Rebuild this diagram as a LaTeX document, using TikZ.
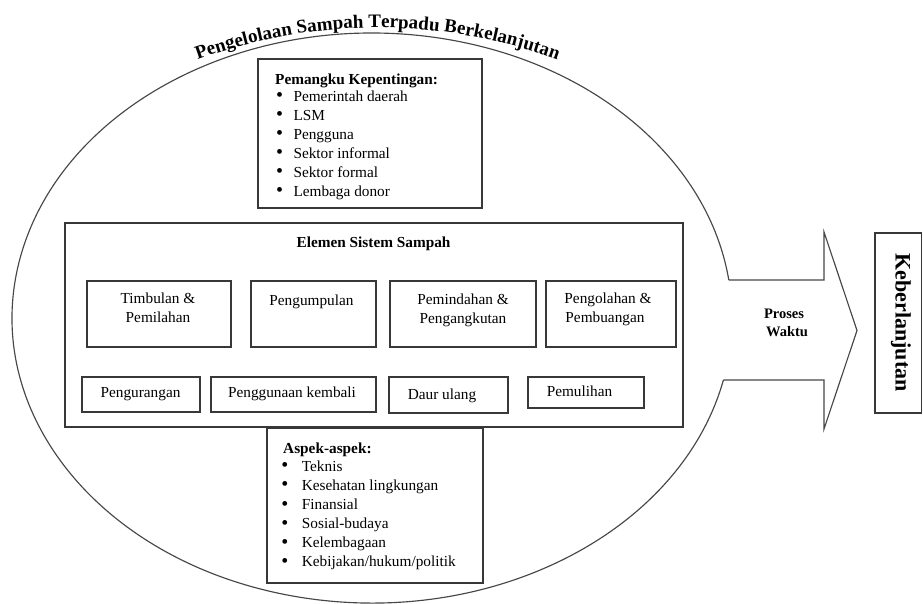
\documentclass[tikz,border=0pt]{standalone}
\usepackage{fontspec}
\setmainfont{Liberation Serif}
\usetikzlibrary{decorations.text}

\newcommand{\arctitlefont}{\fontsize{19}{19}\selectfont\bfseries}
\newcommand{\bigbullet}{\raisebox{-0.8pt}{\fontsize{20}{20}\selectfont\textbullet}}

\tikzset{
  outline/.style={draw=black!72, line width=1.15pt},
  box/.style={draw=black!78, line width=1.2pt, fill=white, inner sep=0pt, outer sep=0pt, anchor=north west},
  lbl/.style={font=\fontsize{15.3}{18.6}\selectfont, inner sep=0pt, anchor=base, text=black},
  lblb/.style={lbl, font=\fontsize{15.3}{18.6}\selectfont\bfseries},
  item/.style={lbl, anchor=base west},
  head/.style={lblb, anchor=base west},
}

\begin{document}
\begin{tikzpicture}[x=1pt, y=-1pt]
\useasboundingbox (0,0) rectangle (923,603);

% outer ellipse, left open on the right where the arrow leaves it
\coordinate (eTop) at (728.8,280);
\coordinate (eBot) at (723.4,380);
\draw[outline] (eBot) arc[start angle=12.56, end angle=352.34, x radius=360, y radius=285];

% block arrow "Proses Waktu"
\coordinate (aTopIn)  at (824,280);
\coordinate (aTopOut) at (824,232);
\coordinate (aTip)    at (857,330.5);
\coordinate (aBotOut) at (824,429);
\coordinate (aBotIn)  at (824,380);
\draw[outline, line join=miter] (eTop) -- (aTopIn) -- (aTopOut) -- (aTip) -- (aBotOut) -- (aBotIn) -- (eBot);
\node[lblb, font=\fontsize{14.5}{17}\selectfont\bfseries] (proses) at (784,318) {Proses};
\node[lblb, font=\fontsize{14.5}{17}\selectfont\bfseries] (waktu) at (787,336.5) {Waktu};

% arched title (cubic form of a parabolic arch)
\coordinate (tStart) at (188,63);
\coordinate (tCtrlA) at (313.5,16);
\coordinate (tCtrlB) at (441.5,16);
\coordinate (tEnd)   at (567,63);
\path[decorate, decoration={text along path, text align=center,
      text={|\arctitlefont|Pengelolaan Sampah Terpadu Berkelanjutan}}]
  (tStart) .. controls (tCtrlA) and (tCtrlB) .. (tEnd);

% stakeholders
\node[box, minimum width=224pt, minimum height=149pt] (stake) at (258,59) {};
\node[head] (stakeT) at (275,84) {Pemangku Kepentingan:};
\foreach \txt [count=\i] in {Pemerintah daerah, LSM, Pengguna, Sektor informal, Sektor formal, Lembaga donor}
  \node[item] (stake-\i) at (276,{101+19*(\i-1)}) {\makebox[17.3pt][l]{\bigbullet}\txt};

% waste system elements
\node[box, minimum width=618pt, minimum height=204pt] (elem) at (65,223) {};
\node[lblb] (elemT) at (373.5,247) {Elemen Sistem Sampah};

\node[box, minimum width=144pt, minimum height=66pt] (timb) at (87,281) {};
\node[lbl] (timbA) at (158,303.5) {Timbulan \&};
\node[lbl] (timbB) at (158,322) {Pemilahan};

\node[box, minimum width=125pt, minimum height=66pt] (kumpul) at (251,281) {};
\node[lbl] (kumpulA) at (311.5,305) {Pengumpulan};

\node[box, minimum width=146pt, minimum height=66pt] (pindah) at (390,281) {};
\node[lbl] (pindahA) at (463,304) {Pemindahan \&};
\node[lbl] (pindahB) at (463,323) {Pengangkutan};

\node[box, minimum width=130pt, minimum height=66pt] (olah) at (546,281) {};
\node[lbl] (olahA) at (608,303.5) {Pengolahan \&};
\node[lbl] (olahB) at (605,322.5) {Pembuangan};

\node[box, minimum width=118pt, minimum height=35pt] (kurang) at (82,377) {};
\node[lbl] (kurangA) at (140.5,397.5) {Pengurangan};

\node[box, minimum width=165pt, minimum height=35pt] (guna) at (211,377) {};
\node[lbl] (gunaA) at (292,397.5) {Penggunaan kembali};

\node[box, minimum width=119pt, minimum height=36pt] (daur) at (389,377) {};
\node[lbl] (daurA) at (442,399) {Daur ulang};

\node[box, minimum width=116pt, minimum height=31pt] (pulih) at (528,377) {};
\node[lbl] (pulihA) at (579.5,396.5) {Pemulihan};

% aspects
\node[box, minimum width=216pt, minimum height=155pt] (aspek) at (267,428) {};
\node[head] (aspekT) at (283,453.5) {Aspek-aspek:};
\foreach \txt [count=\i] in {Teknis, Kesehatan lingkungan, Finansial, Sosial-budaya, Kelembagaan, Kebijakan/hukum/politik}
  \node[item] (aspek-\i) at (281.2,{471+19.1*(\i-1)}) {\makebox[20.5pt][l]{\bigbullet}\txt};

% sustainability
\node[box, minimum width=46.5pt, minimum height=180pt] (keb) at (875,233) {};
\node[lblb, anchor=center, rotate=-90, font=\fontsize{22}{22}\selectfont\bfseries] (kebT) at (901,322.5) {Keberlanjutan};
\end{tikzpicture}
\end{document}
